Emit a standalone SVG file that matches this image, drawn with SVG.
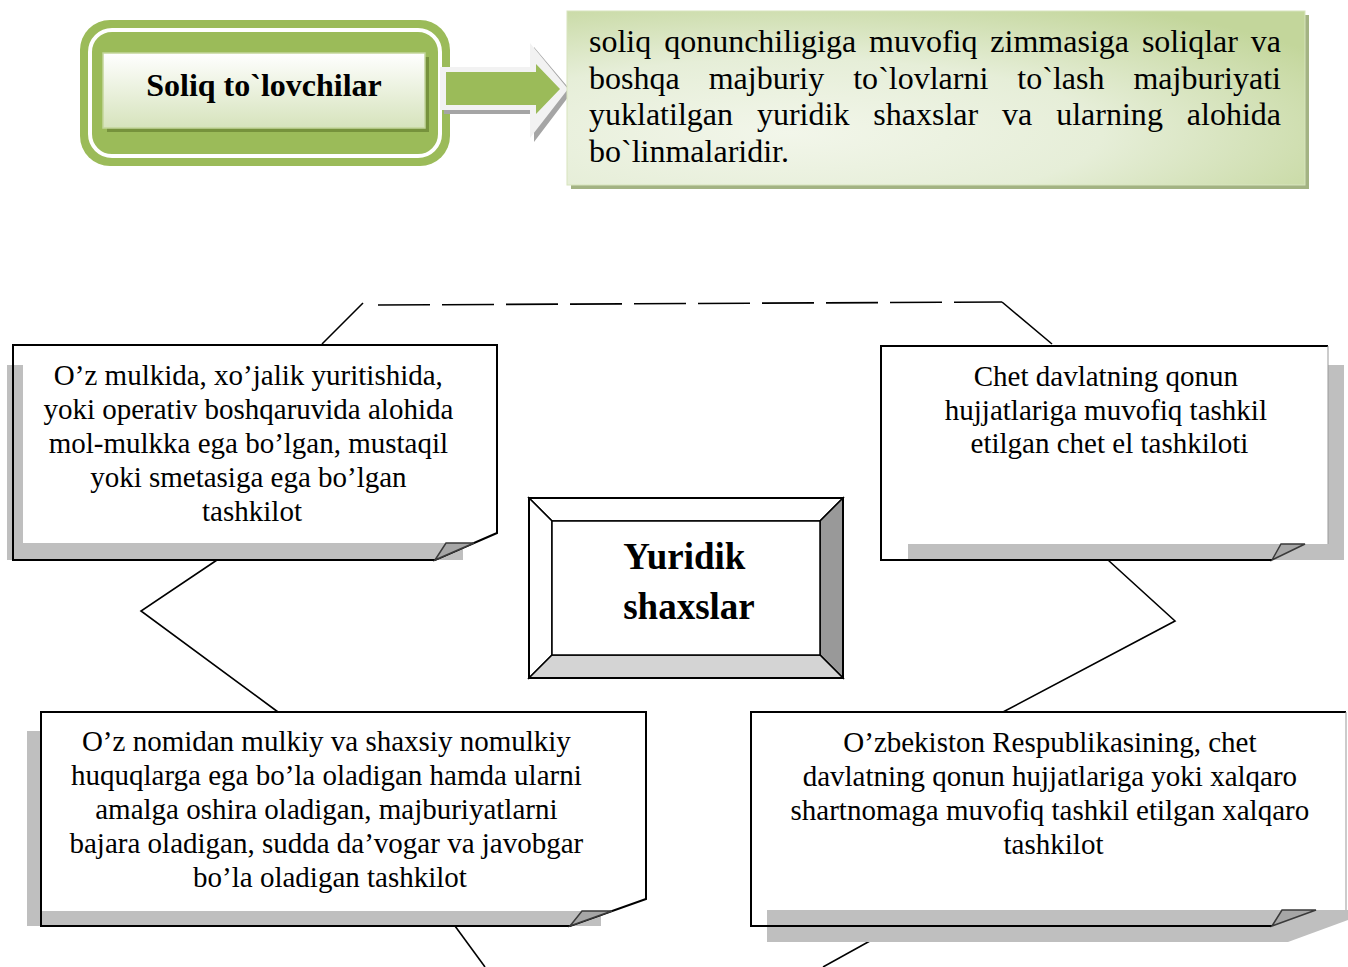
<svg xmlns="http://www.w3.org/2000/svg" width="1348" height="967" viewBox="0 0 1348 967">
<style>
.t{font-family:"Liberation Serif","Times New Roman",serif;fill:#000}
.bt{font-size:29px;text-anchor:middle}
.sh{fill:#bfbfbf}
.wh{fill:#fff}
.ol{fill:none;stroke:#000;stroke-width:2;stroke-linejoin:miter}
.fold{fill:#a6a6a6;stroke:#3a3a3a;stroke-width:1.5;stroke-linejoin:miter}
.cn{fill:none;stroke:#000;stroke-width:1.6}
.bv{stroke:#000;stroke-width:1.5;stroke-linejoin:miter}
</style>
<defs>
<linearGradient id="gTitle" x1="0" y1="0" x2="0" y2="1">
<stop offset="0" stop-color="#ffffff"/>
<stop offset="1" stop-color="#d6e3bc"/>
</linearGradient>
<radialGradient id="gDef" cx="0.3" cy="0.7" r="0.85">
<stop offset="0" stop-color="#f2f6ea"/>
<stop offset="0.5" stop-color="#e6eed8"/>
<stop offset="1" stop-color="#c3d69b"/>
</radialGradient>
</defs>
<rect width="1348" height="967" fill="#fff"/>

<g id="connectors">
<line class="cn" x1="322" y1="344" x2="363" y2="303"/>
<line class="cn" x1="378" y1="305" x2="1002" y2="302" stroke-dasharray="52 12"/>
<line class="cn" x1="1002" y1="302" x2="1052" y2="344"/>
<polyline class="cn" points="217,560 141,611 278,712"/>
<polyline class="cn" points="1108,560 1175,621 1003,712"/>
<line class="cn" x1="455" y1="926" x2="485" y2="967"/>
<line class="cn" x1="897" y1="926" x2="823" y2="967"/>
</g>

<g id="title">
<rect x="80" y="20" width="370" height="146" rx="30" fill="#9bbb59"/>
<rect x="90" y="30" width="350" height="126" rx="22" fill="none" stroke="#fff" stroke-width="4"/>
<rect x="107" y="57" width="322" height="75" fill="#76923c"/>
<rect x="103" y="53" width="322" height="75" fill="url(#gTitle)" stroke="#c3d69b" stroke-width="1.5"/>
<text class="t" x="264" y="96" font-size="32" font-weight="bold" text-anchor="middle">Soliq to`lovchilar</text>
</g>

<g id="arrow">
<polygon points="444,71 534,71 534,47 572,92 534,142 534,114 444,114" fill="#a5a5a5"/>
<polygon points="440,67 530,67 530,43 568,89 530,138 530,110 440,110" fill="#f2f2f2"/>
<polygon points="446,72 536,72 536,64 560,89 536,114 536,105 446,105" fill="#9bbb59"/>
</g>

<g id="definition">
<rect x="571" y="15" width="738" height="174" fill="#a3b383"/>
<rect x="567" y="11" width="738" height="174" fill="url(#gDef)" stroke="#d7e4bd" stroke-width="1"/>
<text class="t" font-size="32">
<tspan x="589" y="52" word-spacing="4.9" textLength="692" lengthAdjust="spacing">soliq qonunchiligiga muvofiq zimmasiga soliqlar va</tspan>
<tspan x="589" y="88.5" word-spacing="21" textLength="692" lengthAdjust="spacing">boshqa majburiy to`lovlarni to`lash majburiyati</tspan>
<tspan x="589" y="125" word-spacing="15.9" textLength="692" lengthAdjust="spacing">yuklatilgan yuridik shaxslar va ularning alohida</tspan>
<tspan x="589" y="161.5">bo`linmalaridir.</tspan>
</text>
</g>

<g id="boxA">
<rect class="sh" x="7" y="365" width="456" height="195"/>
<rect class="wh" x="23" y="345" width="474" height="198"/>
<path class="ol" d="M13,560 V345 H497 V533 L435,560 Z"/>
<polygon class="fold" points="435,560 446,543 474,543"/>
<text class="t bt">
<tspan x="252" y="385">O’z mulkida, xo’jalik yuritishida,</tspan>
<tspan x="252" y="419">yoki operativ boshqaruvida alohida</tspan>
<tspan x="252" y="453">mol-mulkka ega bo’lgan, mustaqil</tspan>
<tspan x="252" y="487">yoki smetasiga ega bo’lgan</tspan>
<tspan x="252" y="521">tashkilot</tspan>
</text>
</g>

<g id="boxB">
<rect class="sh" x="908" y="365" width="436" height="195"/>
<rect class="wh" x="881" y="346" width="447" height="198"/>
<path class="ol" d="M1328,346 H881 V560 H1272"/>
<line x1="1328" y1="346" x2="1328" y2="544" stroke="#999" stroke-width="1"/>
<polygon class="fold" points="1272,560 1281,544 1305,544"/>
<text class="t bt">
<tspan x="1109.5" y="386">Chet davlatning qonun</tspan>
<tspan x="1109.5" y="419.5">hujjatlariga muvofiq tashkil</tspan>
<tspan x="1109.5" y="453">etilgan chet el tashkiloti</tspan>
</text>
</g>

<g id="center">
<polygon class="bv" points="529,498 843,498 820,521 552,521" fill="#fff"/>
<polygon class="bv" points="529,498 552,521 552,655 529,678" fill="#fff"/>
<polygon class="bv" points="843,498 843,678 820,655 820,521" fill="#999"/>
<polygon class="bv" points="529,678 843,678 820,655 552,655" fill="#d4d4d4"/>
<rect x="552" y="521" width="268" height="134" fill="#fff" stroke="#000" stroke-width="1.5"/>
<rect x="529" y="498" width="314" height="180" fill="none" stroke="#000" stroke-width="2"/>
<text class="t" font-size="37" font-weight="bold" text-anchor="middle">
<tspan x="689" y="569">Yuridik</tspan>
<tspan x="689" y="619">shaxslar</tspan>
</text>
</g>

<g id="boxC">
<rect class="sh" x="27" y="731" width="574" height="195"/>
<rect class="wh" x="41" y="712" width="605" height="199"/>
<path class="ol" d="M41,926 V712 H646 V899 L570,926 Z"/>
<polygon class="fold" points="570,926 582,911 612,911"/>
<text class="t bt">
<tspan x="330" y="751">O’z nomidan mulkiy va shaxsiy nomulkiy</tspan>
<tspan x="330" y="785">huquqlarga ega bo’la oladigan hamda ularni</tspan>
<tspan x="330" y="819">amalga oshira oladigan, majburiyatlarni</tspan>
<tspan x="330" y="853">bajara oladigan, sudda da’vogar va javobgar</tspan>
<tspan x="330" y="887">bo’la oladigan tashkilot</tspan>
</text>
</g>

<g id="boxD">
<polygon class="sh" points="767,910 1348,910 1348,920 1288,942 767,942"/>
<rect class="wh" x="751" y="712" width="595" height="198"/>
<path class="ol" d="M1346,712 H751 V926 H1272"/>
<line x1="1346" y1="712" x2="1346" y2="910" stroke="#999" stroke-width="1"/>
<polygon class="fold" points="1272,926 1282,910 1316,910"/>
<text class="t bt">
<tspan x="1053.5" y="752">O’zbekiston Respublikasining, chet</tspan>
<tspan x="1053.5" y="786">davlatning qonun hujjatlariga yoki xalqaro</tspan>
<tspan x="1053.5" y="820">shartnomaga muvofiq tashkil etilgan xalqaro</tspan>
<tspan x="1053.5" y="854">tashkilot</tspan>
</text>
</g>
</svg>
